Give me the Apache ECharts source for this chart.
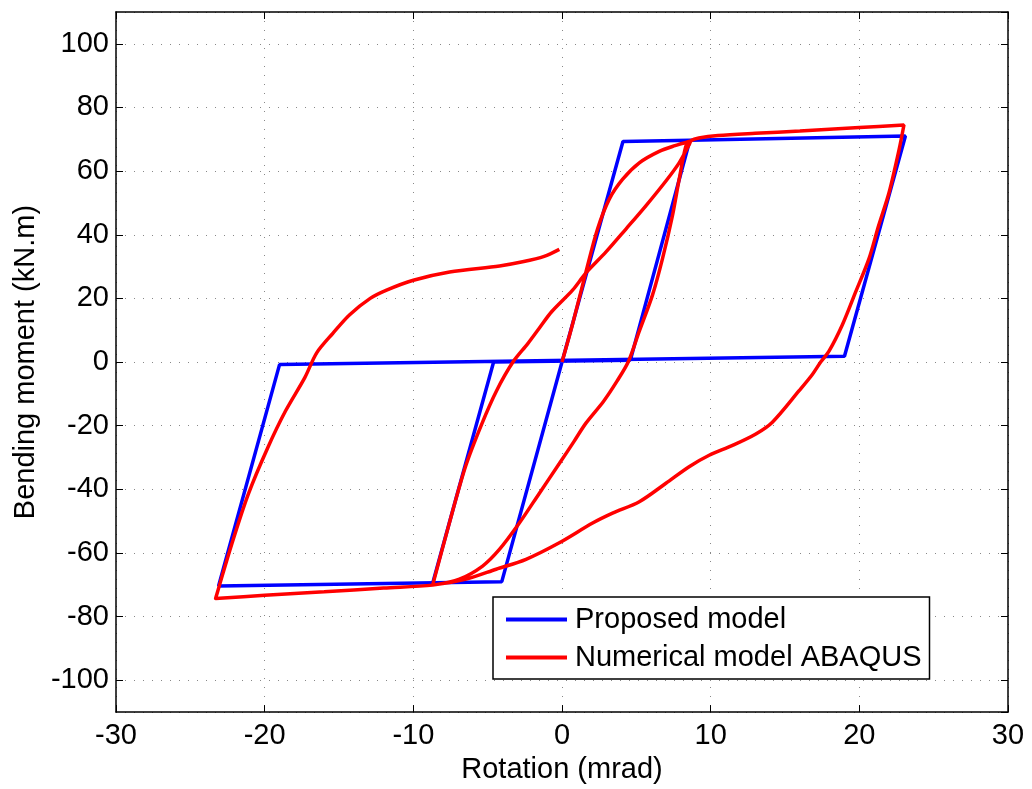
<!DOCTYPE html>
<html>
<head>
<meta charset="utf-8">
<script src="https://cdn.jsdelivr.net/npm/echarts@6/dist/echarts.min.js"></script>
<style>
html,body{margin:0;padding:0;background:#fff;}
#chart{width:1032px;height:789px;}
</style>
</head>
<body>
<div id="chart"></div>
<script>
// ---- Data (rotation mrad, bending moment kN.m) ----
const xTicks = [-30, -20, -10, 0, 10, 20, 30];
const yTicks = [-100, -80, -60, -40, -20, 0, 20, 40, 60, 80, 100];

const proposedModel = [
  [0, 0], [4.1, 69.3], [8.6, 69.7], [4.6, 0.6], [-4.6, 0.0], [-8.7, -69.5],
  [-4.6, 0.0], [4.6, 0.6], [8.6, 69.7], [23.1, 71.0], [19.0, 1.8],
  [-19.0, -0.8], [-23.1, -70.4], [-4.05, -69.0], [0, 0]
];

const abaqusLoad1 = [
  [0, 0], [0.7, 11.7], [1.61, 28.3], [2.39, 41.8], [3.18, 51.2], [4.07, 57.4],
  [5.2, 62.6], [6.54, 66.2], [7.6, 68.0], [8.6, 69.4]
];
const abaqusUnload1 = [
  [8.33, 67.8], [7.88, 57.4], [7.43, 46.0], [6.76, 32.5], [6.09, 21.1], [5.2, 9.7],
  [4.45, 0.0], [3.7, -6.0], [2.8, -12.3], [1.61, -19.2], [0.8, -25.0], [-0.18, -31.9],
  [-1.52, -41.2], [-2.87, -50.6], [-4.21, -58.9], [-5.34, -64.1], [-6.9, -68.2], [-8.7, -70.1]
];
const abaqusReload1 = [
  [-7.6, -51.0], [-6.5, -33.0], [-5.4, -19.5], [-4.4, -9.0], [-3.3, 0.0],
  [-2.3, 5.8], [-1.52, 10.7], [-0.7, 15.8], [0.71, 22.6], [1.61, 28.0], [2.96, 34.6],
  [4.3, 41.8], [5.64, 49.1], [6.99, 56.9], [7.88, 62.6], [8.55, 68.3], [8.7, 69.6]
];
const abaqusPlastic1 = [
  [9.2, 70.4], [10.5, 71.2], [13.0, 71.9], [16.0, 72.6], [20.0, 73.7], [23.0, 74.5]
];
const abaqusUnload2 = [
  [22.67, 66.7], [22.0, 53.3], [21.3, 42.9], [20.65, 32.5], [19.76, 22.1], [18.86, 11.7],
  [17.96, 3.4], [17.4, 0.0], [16.84, -3.9], [15.95, -9.0], [14.15, -18.9], [13.04, -22.6],
  [11.47, -26.2], [9.9, -29.3], [8.55, -32.9], [6.99, -38.1], [5.2, -43.9], [3.4, -47.5],
  [2.06, -50.6], [-0.18, -56.8], [-2.42, -62.0], [-4.43, -65.1], [-6.45, -68.2], [-8.7, -70.1]
];
const abaqusPlastic2 = [
  [-12.0, -71.0], [-16.0, -72.2], [-20.0, -73.3], [-23.3, -74.3]
];
const abaqusReload2 = [
  [-22.2, -57.0], [-21.1, -41.5], [-19.8, -27.0], [-18.6, -15.4], [-17.3, -4.9],
  [-16.5, 2.9], [-15.4, 9.1], [-14.3, 14.8], [-12.9, 20.0], [-11.8, 22.6], [-10.0, 25.7],
  [-7.56, 28.3], [-4.2, 30.2], [-2.65, 31.5], [-1.2, 33.2], [-0.18, 35.4]
];
const abaqusModel = [].concat(abaqusLoad1, abaqusUnload1, abaqusReload1, abaqusPlastic1,
  abaqusUnload2, abaqusPlastic2, abaqusReload2);

const seriesNames = ['Proposed model', 'Numerical model ABAQUS'];

// ---- Chart ----
const FONT = 'Liberation Sans, Arial, Helvetica, sans-serif';
const chart = echarts.init(document.getElementById('chart'), null, {renderer: 'canvas'});

const gridLine = {show: true, lineStyle: {color: '#888', width: 1, type: [1, 8]}};
const tickInside = {show: true, inside: true, length: 7, lineStyle: {color: '#000', width: 1}};
const axisLineBlack = {show: true, onZero: false, lineStyle: {color: '#000', width: 1.5}};

chart.setOption({
  animation: false,
  backgroundColor: '#fff',
  grid: {left: 116, right: 24, top: 12, bottom: 72, containLabel: false},
  xAxis: [{
    type: 'value', min: -30, max: 30, interval: 10, position: 'bottom',
    name: 'Rotation (mrad)', nameLocation: 'middle', nameGap: 40,
    nameTextStyle: {fontFamily: FONT, fontSize: 29, color: '#000'},
    axisLine: axisLineBlack, axisTick: tickInside, splitLine: gridLine,
    axisLabel: {fontFamily: FONT, fontSize: 29, color: '#000', margin: 9,
      formatter: v => xTicks.indexOf(v) >= 0 ? String(v) : ''}
  }, {
    type: 'value', min: -30, max: 30, interval: 10, position: 'top',
    axisLine: axisLineBlack, axisTick: tickInside, splitLine: {show: false},
    axisLabel: {show: false}
  }],
  yAxis: [{
    type: 'value', min: -110, max: 110, splitNumber: 11, position: 'left',
    name: 'Bending moment (kN.m)', nameLocation: 'middle', nameGap: 70, nameRotate: 90,
    nameTextStyle: {fontFamily: FONT, fontSize: 29, color: '#000'},
    axisLine: axisLineBlack, axisTick: tickInside, splitLine: gridLine,
    axisLabel: {fontFamily: FONT, fontSize: 29, color: '#000', margin: 7,
      showMinLabel: false, showMaxLabel: false,
      formatter: v => yTicks.indexOf(v) >= 0 ? String(v) : ''}
  }, {
    type: 'value', min: -110, max: 110, splitNumber: 11, position: 'right',
    axisLine: axisLineBlack, axisTick: tickInside, splitLine: {show: false},
    axisLabel: {show: false}
  }],
  legend: {
    orient: 'vertical', left: 493, top: 597,
    data: seriesNames,
    icon: 'rect',
    backgroundColor: '#fff', borderColor: '#000', borderWidth: 1.5, borderRadius: 0,
    padding: [8, 8, 7, 13], itemGap: 9, itemWidth: 61, itemHeight: 4,
    textStyle: {fontFamily: FONT, fontSize: 29, color: '#000', lineHeight: 29, padding: [0, 0, 0, 3]}
  },
  series: [{
    name: seriesNames[0], type: 'line', data: proposedModel,
    symbol: 'none', smooth: false, clip: false,
    lineStyle: {color: '#0000ff', width: 3.5}, itemStyle: {color: '#0000ff'}
  }, {
    name: seriesNames[1], type: 'line', data: abaqusModel,
    symbol: 'none', smooth: 0.3, clip: false,
    lineStyle: {color: '#ff0000', width: 3.5}, itemStyle: {color: '#ff0000'}
  }]
});
</script>
</body>
</html>
